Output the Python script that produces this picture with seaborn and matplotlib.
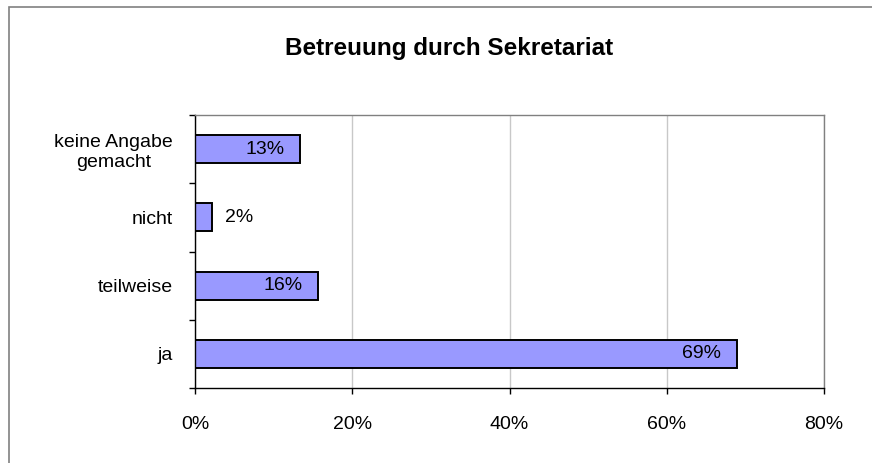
import numpy as np
import pandas as pd
import seaborn as sns
import matplotlib.pyplot as plt
from matplotlib.patches import Rectangle
from matplotlib.ticker import FixedLocator, PercentFormatter

# =============================================================================
# Data
# =============================================================================

categories = ["keine Angabe\ngemacht", "nicht", "teilweise", "ja"]
values = [13.3, 2.2, 15.6, 68.9]
labels = ["13%", "2%", "16%", "69%"]
x_ticks = [0, 20, 40, 60, 80]

df = pd.DataFrame({"Kategorie": categories, "Anteil": values})

# =============================================================================
# Style
# =============================================================================

sns.set_style("white")
plt.rcParams["font.family"] = ["Liberation Sans", "DejaVu Sans"]
plt.rcParams["text.color"] = "black"
plt.rcParams["xtick.color"] = "black"
plt.rcParams["ytick.color"] = "black"

fig = plt.figure(figsize=(8.72, 4.63), dpi=100)
ax = fig.add_axes([195 / 872, 1 - 388 / 463, (824 - 195) / 872, (388 - 115) / 463])

sns.barplot(
    data=df,
    x="Anteil",
    y="Kategorie",
    orient="h",
    color="#9999FF",
    saturation=1,
    width=0.41,
    edgecolor="black",
    linewidth=1.4,
    ax=ax
)

ax.set_xlim(0, 80)
ax.set_ylim(3.5, -0.5)
ax.xaxis.set_major_locator(FixedLocator(x_ticks))
ax.xaxis.set_major_formatter(PercentFormatter(decimals=0))
ax.set_xlabel("")
ax.set_ylabel("")

# gridlines
ax.grid(axis="x", color="#c8c8c8", linewidth=1.0)
ax.grid(axis="y", visible=False)
ax.set_axisbelow(True)

# spines
for side in ["top", "right"]:
    ax.spines[side].set_color("#808080")
    ax.spines[side].set_linewidth(1.0)
for side in ["left", "bottom"]:
    ax.spines[side].set_color("black")
    ax.spines[side].set_linewidth(1.0)

# ticks: category labels without marks, marks at category boundaries
ax.tick_params(axis="y", which="major", length=0, pad=16, labelsize=14, labelcolor="black")
ax.yaxis.set_minor_locator(FixedLocator(np.arange(-0.5, 4, 1.0)))
ax.tick_params(axis="y", which="minor", left=True, length=4, width=1, color="black", direction="out")
ax.tick_params(axis="x", which="major", bottom=True, length=4, width=1, color="black",
               direction="out", pad=16, labelsize=14, labelcolor="black")
for lab in ax.get_yticklabels():
    lab.set_multialignment("center")

# value labels
for patch, text in zip(ax.patches, labels):
    x_end = patch.get_x() + patch.get_width()
    y_mid = patch.get_y() + patch.get_height() / 2
    if patch.get_width() < 5:
        ax.annotate(text, (x_end, y_mid), xytext=(9, 0), textcoords="offset points",
                    ha="left", va="center", fontsize=14, color="black")
    else:
        ax.annotate(text, (x_end, y_mid), xytext=(-11, 0), textcoords="offset points",
                    ha="right", va="center", fontsize=14, color="black")

fig.text(449 / 872, 1 - 48 / 463, "Betreuung durch Sekretariat",
         ha="center", va="center", fontsize=17.5, fontweight="bold", color="black")

# chart area border
fig.patches.append(Rectangle((9 / 872, -0.05), 1.0, 1 - 7 / 463 + 0.05,
                             transform=fig.transFigure, fill=False,
                             edgecolor="#808080", linewidth=1.2))

fig.savefig("out.png", dpi=100)
